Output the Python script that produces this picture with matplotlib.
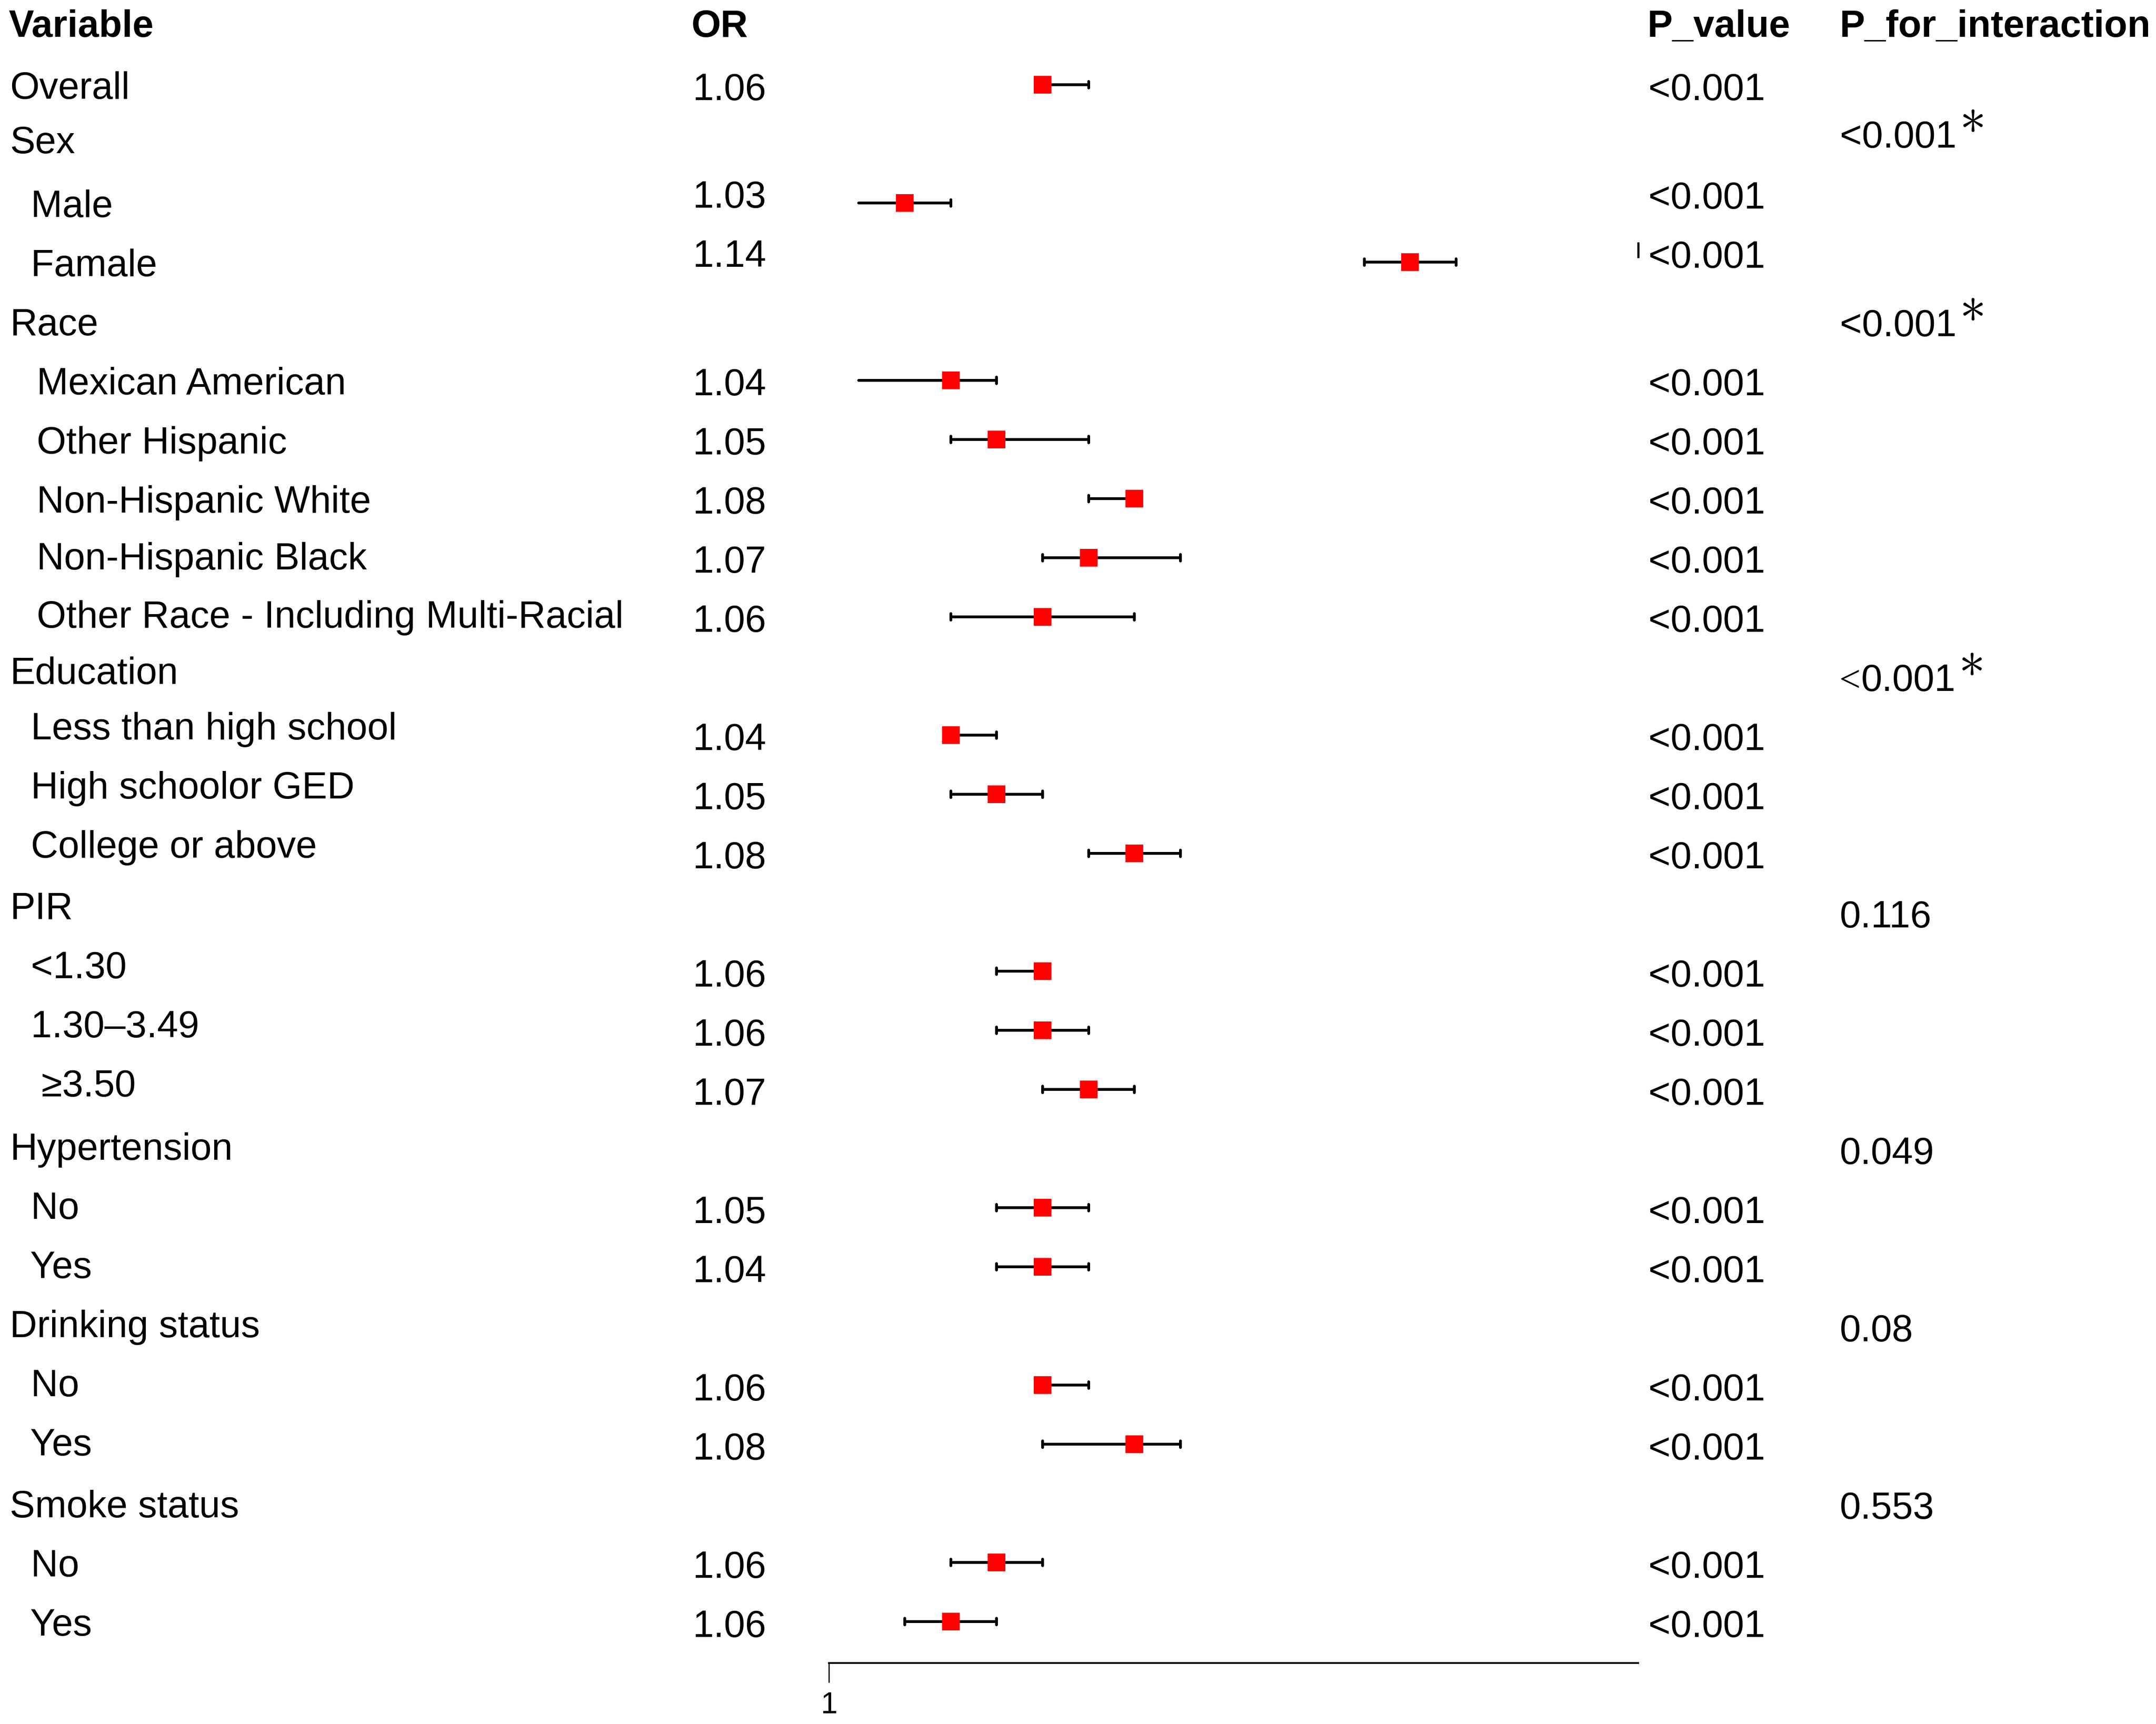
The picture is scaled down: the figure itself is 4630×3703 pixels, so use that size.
import numpy as np
import matplotlib.pyplot as plt
from matplotlib.markers import MarkerStyle
from matplotlib.transforms import blended_transform_factory, ScaledTranslation

plt.rcParams['font.family'] = ['Liberation Sans', 'DejaVu Sans']

# table rows, top to bottom
names = ["Overall", "Sex", "  Male", "  Famale", "Race",
         "   Mexican American", "   Other Hispanic", "   Non-Hispanic White",
         "   Non-Hispanic Black", "   Other Race - Including Multi-Racial",
         "Education", "  Less than high school", "  High schoolor GED",
         "  College or above", "PIR", "  <1.30", "  1.30\u20133.49", "   \u22653.50",
         "Hypertension", "  No", "  Yes", "Drinking status", "  No", "  Yes",
         "Smoke status", "  No", "  Yes"]
or_text = ["1.06", "", "1.03", "1.14", "", "1.04", "1.05", "1.08", "1.07", "1.06",
           "", "1.04", "1.05", "1.08", "", "1.06", "1.06", "1.07", "", "1.05", "1.04",
           "", "1.06", "1.08", "", "1.06", "1.06"]
nan = np.nan
est = [1.06, nan, 1.03, 1.14, nan, 1.04, 1.05, 1.08, 1.07, 1.06,
       nan, 1.04, 1.05, 1.08, nan, 1.06, 1.06, 1.07, nan, 1.06, 1.06,
       nan, 1.06, 1.08, nan, 1.05, 1.04]
lo = [1.06, nan, 1.02, 1.13, nan, 1.02, 1.04, 1.07, 1.06, 1.04,
      nan, 1.04, 1.04, 1.07, nan, 1.05, 1.05, 1.06, nan, 1.05, 1.05,
      nan, 1.06, 1.06, nan, 1.04, 1.03]
hi = [1.07, nan, 1.04, 1.15, nan, 1.05, 1.07, 1.08, 1.09, 1.08,
      nan, 1.05, 1.06, 1.09, nan, 1.06, 1.07, 1.08, nan, 1.07, 1.07,
      nan, 1.07, 1.09, nan, 1.06, 1.05]
left_cap = [True, False, False, True, False, False, True, True, True, True,
            False, True, True, True, False, True, True, True, False, True, True,
            False, True, True, False, True, True]
p_value = ["<0.001", "", "<0.001", "<0.001", "", "<0.001", "<0.001", "<0.001",
           "<0.001", "<0.001", "", "<0.001", "<0.001", "<0.001", "", "<0.001",
           "<0.001", "<0.001", "", "<0.001", "<0.001", "", "<0.001", "<0.001",
           "", "<0.001", "<0.001"]
p_int = {1: "<0.001", 4: "<0.001", 10: "<0.001", 14: "0.116", 18: "0.049",
         21: "0.08", 24: "0.553"}
p_int_star = [1, 4, 10]
headers = ["Variable", "OR", "P_value", "P_for_interaction"]

# small nudges of the text, as in the original layout
name_dy = [0, -0.08, 0, 0, 0, 0, 0, 0, -0.04, -0.05, -0.1, -0.16, -0.16, -0.16,
           -0.12, -0.12, -0.12, -0.12, -0.05, -0.05, -0.05, -0.05, -0.05, -0.05,
           0, 0, 0]
name_dx = [0] * len(names)
for k in range(5, 10):
    name_dx[k] = -10
or_dy = [0.02] * len(names)
or_dy[2] = or_dy[3] = -0.16
p_dy = [0.02] * len(names)
p_dy[2] = p_dy[3] = -0.14

W, H, DPI = 4630, 3704, 300
fs = 19.5
fig = plt.figure(figsize=(W / DPI, H / DPI), dpi=DPI)

x_lo, x_hi = 1.0135, 1.1896
ax = fig.add_axes([1780 / W, 1 - 3573 / H, (3518 - 1780) / W, 3573 / H])
ax.set_xlim(x_lo, x_hi)
ax.set_ylim(26.70, -1.441)

rows = np.arange(len(names))
est = np.array(est)
lo = np.array(lo)
hi = np.array(hi)
ok = ~np.isnan(est)
lc = np.array(left_cap)

lw = 1.45
segs = ax.hlines(rows[ok], lo[ok], hi[ok], color='black', lw=lw)
segs.set_capstyle('round')
cap = MarkerStyle('|', capstyle='round')
ax.plot(lo[lc], rows[lc], ls='none', marker=cap, ms=3.2, mew=lw, color='black')
ax.plot(hi[ok], rows[ok], ls='none', marker=cap, ms=3.2, mew=lw, color='black')
ax.plot(est[ok], rows[ok], ls='none', marker='s', ms=8.9, mew=0,
        color='#ff0000', zorder=5)
# stray short mark next to the Famale p-value
ax.vlines(x_hi, 2.66, 2.93, color='black', lw=1.1, clip_on=False)

for s in ['top', 'right', 'left']:
    ax.spines[s].set_visible(False)
ax.spines['bottom'].set_linewidth(0.9)
ax.set_yticks([])
ax.set_xticks([x_lo])
ax.set_xticklabels(["1"], fontsize=15.5)
ax.tick_params(axis='x', length=10, width=0.6, pad=4.5)
ax.patch.set_alpha(0)

cap_half = 0.716 * fs / 2
tr = blended_transform_factory(fig.transFigure, ax.transData) + \
    ScaledTranslation(0, -cap_half / 72, fig.dpi_scale_trans)

def put(x, y, s, **kw):
    kw.setdefault('fontsize', fs)
    return ax.text(x / W, y, s, transform=tr, va='baseline',
                   ha='left', clip_on=False, **kw)

col_x = [18, 1485, 3538, 3951]
for x, h in zip(col_x, headers):
    put(x, -1.05, h, fontweight='bold')

for i, n in enumerate(names):
    put(21 + name_dx[i], i + name_dy[i], n)
    if or_text[i]:
        put(1488, i + or_dy[i], or_text[i])
    if p_value[i]:
        put(3540, i + p_dy[i], p_value[i])

for i, s in p_int.items():
    dy = -0.17 if i == 1 else 0.02
    if i == 10:
        # this one has a thinner "<" in the original
        put(3950, i + dy, "<", family='Liberation Serif')
        t = put(3997, i + dy, s[1:])
    else:
        t = put(3951, i + dy, s)
    if i in p_int_star:
        ax.annotate(r"$\ast$", xy=(1, 1), xycoords=t, xytext=(1.5, 0.5),
                    textcoords='offset points', ha='left', va='center',
                    fontsize=27, math_fontfamily='cm')

fig.savefig('out.png', dpi=DPI)
